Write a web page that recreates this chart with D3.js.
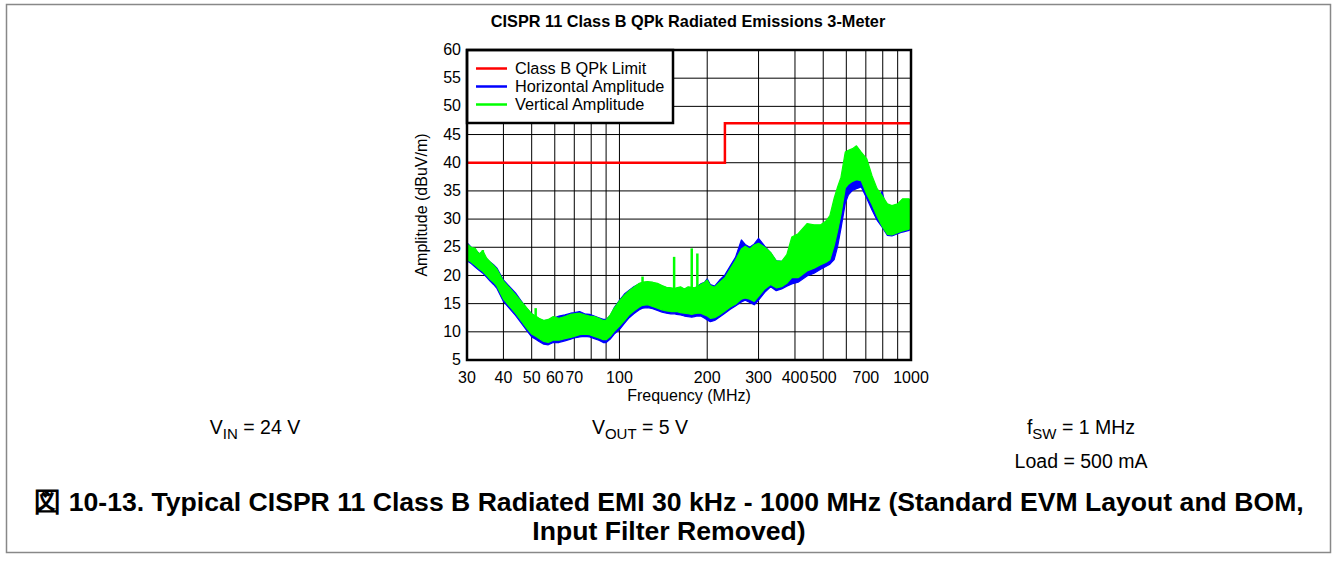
<!DOCTYPE html>
<html>
<head>
<meta charset="utf-8">
<script src="https://cdn.jsdelivr.net/npm/d3@7/dist/d3.min.js"></script>
<style>
  html, body { margin: 0; padding: 0; background: #fff; }
  svg { display: block; }
  text { font-family: "Liberation Sans", Arial, sans-serif; fill: #000; }
</style>
</head>
<body>
<svg id="chart" width="1338" height="563"></svg>
<script>
// ---- data ---------------------------------------------------------------
const freqMHz = [30,31,32,33,34,35,36,37,38,40,42,44,46,48,50,51.6,53,55,57,59.3,62,65,68,70,73,76,79,82,85,88,90,93,96,100,104,108,112,117,120,125,130,135,140,145,150,154,157,162,167,172,177,181,185,190,196,200,205,212,220,230,240,250,262,270,280,290,300,315,330,345,360,375,390,410,440,465,490,510,527,545,560,575,595,610,630,650,675,705,735,765,795,830,860,900,935,985,1000];

// Vertical antenna (green): lower / upper envelope, dBuV/m
const vertLow  = [22.8,22.4,21.8,21.2,20.7,20.0,19.3,18.8,18.1,15.8,14.5,13.3,12.0,10.7,9.6,9.2,8.8,8.3,8.1,8.5,8.5,8.8,9.0,9.2,9.5,9.6,9.5,9.2,8.9,8.6,8.6,9.2,10.1,11.0,12.0,13.0,13.7,14.4,14.7,14.8,14.5,14.2,13.9,13.7,13.6,13.6,13.6,13.4,13.3,13.2,13.1,13.2,13.3,13.3,13.0,12.8,12.4,12.5,13.0,13.7,14.4,14.9,15.8,16.0,15.8,15.4,16.3,17.6,18.4,17.8,18.0,18.6,19.6,19.6,20.8,21.3,21.9,22.3,22.8,25.3,27.9,30.8,35.5,36.2,36.7,37.0,36.8,34.4,32.6,30.5,28.8,27.3,27.2,27.6,27.9,28.2,28.6];
const vertHigh = [25.6,25.0,24.8,23.8,24.4,23.1,22.4,21.8,21.1,19.0,17.8,16.6,15.4,14.3,13.2,12.8,12.4,12.0,12.2,12.7,12.4,12.7,13.1,13.2,13.3,13.0,12.8,12.7,12.4,12.0,12.1,13.0,14.2,15.5,16.5,17.3,17.9,18.6,18.8,18.9,18.8,18.6,18.2,17.9,17.8,17.7,17.8,18.0,17.6,18.0,17.9,17.8,18.0,18.4,18.8,19.2,18.2,17.9,18.7,19.6,21.2,22.7,24.7,25.2,24.7,25.4,25.7,25.0,24.1,22.6,22.5,23.7,26.8,27.4,29.2,29.0,29.0,29.6,30.6,33.7,35.7,37.4,41.9,42.2,42.5,43.0,41.9,40.7,37.7,35.4,34.2,32.7,32.4,32.7,33.6,33.6,33.2];

// Horizontal antenna (blue): lower / upper envelope, dBuV/m
const horizLow  = [22.6,22.1,21.5,20.9,20.4,19.7,19.0,18.4,17.7,15.4,14.1,12.9,11.6,10.3,9.1,8.7,8.3,7.8,7.7,8.1,8.1,8.4,8.7,8.9,9.1,9.2,9.1,8.8,8.5,8.1,8.1,8.7,9.6,10.4,11.5,12.5,13.2,13.9,14.2,14.3,14.1,13.8,13.5,13.3,13.2,13.2,13.1,13.0,12.8,12.7,12.6,12.7,12.8,12.8,12.4,12.1,11.8,12.0,12.6,13.3,14.0,14.6,15.3,15.6,15.2,14.8,15.6,17.0,18.0,17.3,17.6,18.1,18.5,18.8,19.9,20.4,21.1,21.6,22.0,22.8,25.1,28.3,32.8,34.3,35.1,35.4,35.7,33.7,31.6,29.8,28.6,27.1,27.0,27.4,27.7,28.0,28.3];
const horizHigh = [25.8,25.0,24.5,23.9,23.5,22.9,22.4,21.9,21.3,19.2,18.0,16.9,15.5,14.2,13.2,12.6,12.2,12.0,12.1,12.4,12.8,13.0,13.3,13.4,13.6,13.2,13.1,12.8,12.5,12.2,12.2,12.8,14.3,15.6,16.7,17.4,18.0,18.5,18.7,18.8,18.6,18.4,18.1,17.8,17.7,17.6,17.7,17.8,17.6,17.7,17.6,17.7,18.1,18.5,18.8,19.4,18.4,18.1,19.1,20.1,21.7,23.2,26.3,25.5,25.0,25.6,26.6,25.2,24.0,22.6,22.5,22.7,24.7,25.2,26.0,26.2,26.6,27.0,27.7,29.7,31.2,33.4,36.0,37.2,37.8,38.1,37.8,36.7,34.2,33.4,34.9,31.4,31.2,31.6,32.0,32.2,32.0];

// Narrow single-frequency peaks on the vertical trace
const vertSpikeFreq = [34, 51.6, 120, 154, 177, 185];
const vertSpikeBase = [22.0, 11.0, 16.0, 16.0, 16.0, 16.0];
const vertSpikeTop  = [24.5, 14.2, 19.8, 23.3, 24.8, 23.9];

// CISPR 11 Class B QPk limit (3 m)
const limitFreq  = [30, 230, 230, 1000];
const limitLevel = [40, 40, 47, 47];

const xGridFreq  = [30,40,50,60,70,80,90,100,200,300,400,500,600,700,800,900,1000];
const xTickFreq  = [30,40,50,60,70,100,200,300,400,500,700,1000];
const yTickLevel = [5,10,15,20,25,30,35,40,45,50,55,60];

const legendLabels = ["Class B QPk Limit", "Horizontal Amplitude", "Vertical Amplitude"];
const seriesColors = ["#ff0000", "#0000ff", "#00ff00"];

// ---- layout -------------------------------------------------------------
const svg = d3.select("#chart");
const plot = { left: 467, right: 911, top: 50, bottom: 360 };

const x = d3.scaleLog().domain([30, 1000]).range([plot.left, plot.right]);
const y = d3.scaleLinear().domain([5, 60]).range([plot.bottom, plot.top]);

// outer figure frame
svg.append("rect")
  .attr("x", 6.5).attr("y", 4.5).attr("width", 1324).attr("height", 548)
  .attr("fill", "none").attr("stroke", "#888").attr("stroke-width", 1.5);

// title
svg.append("text")
  .attr("x", 688).attr("y", 27)
  .attr("text-anchor", "middle")
  .attr("font-size", 16.3).attr("font-weight", "bold")
  .text("CISPR 11 Class B QPk Radiated Emissions 3-Meter");

// grid + axes
const xAxis = d3.axisBottom(x)
  .tickValues(xGridFreq)
  .tickSize(-(plot.bottom - plot.top))
  .tickPadding(12)
  .offset(0)
  .tickFormat(d => xTickFreq.includes(d) ? d3.format("d")(d) : "");
const yAxis = d3.axisLeft(y)
  .tickValues(yTickLevel)
  .tickSize(-(plot.right - plot.left))
  .tickPadding(6)
  .offset(0)
  .tickFormat(d3.format("d"));

const gx = svg.append("g").attr("transform", `translate(0,${plot.bottom})`).call(xAxis);
const gy = svg.append("g").attr("transform", `translate(${plot.left},0)`).call(yAxis);
[gx, gy].forEach(g => {
  g.select(".domain").remove();
  g.selectAll(".tick line").attr("stroke", "#000").attr("stroke-width", 1);
  g.selectAll(".tick text")
    .attr("font-family", "'Liberation Sans', Arial, sans-serif")
    .attr("font-size", 16).attr("fill", "#000");
});

// axis titles
svg.append("text")
  .attr("x", 689).attr("y", 401)
  .attr("text-anchor", "middle").attr("font-size", 16)
  .text("Frequency (MHz)");
svg.append("text")
  .attr("transform", `translate(427,${(plot.top + plot.bottom) / 2}) rotate(-90)`)
  .attr("text-anchor", "middle").attr("font-size", 16)
  .text("Amplitude (dBuV/m)");

// limit line
const limitLine = d3.line().x(d => x(d[0])).y(d => y(d[1]));
svg.append("path")
  .datum(d3.zip(limitFreq, limitLevel))
  .attr("d", limitLine)
  .attr("fill", "none").attr("stroke", seriesColors[0]).attr("stroke-width", 2.5);

// measurement bands
const band = d3.area()
  .x(d => x(d.f)).y0(d => y(d.lo)).y1(d => y(d.hi));

const horizData = freqMHz.map((f, i) => ({ f, lo: horizLow[i], hi: horizHigh[i] }));
const vertData  = freqMHz.map((f, i) => ({ f, lo: vertLow[i],  hi: vertHigh[i] }));

svg.append("path").datum(horizData).attr("d", band)
  .attr("fill", seriesColors[1]).attr("stroke", seriesColors[1]).attr("stroke-width", 1.2)
  .attr("stroke-linejoin", "round");
svg.append("path").datum(vertData).attr("d", band)
  .attr("fill", seriesColors[2]).attr("stroke", seriesColors[2]).attr("stroke-width", 1.2)
  .attr("stroke-linejoin", "round");

svg.append("g").selectAll("line")
  .data(d3.range(vertSpikeFreq.length))
  .join("line")
  .attr("x1", i => x(vertSpikeFreq[i])).attr("x2", i => x(vertSpikeFreq[i]))
  .attr("y1", i => y(vertSpikeBase[i])).attr("y2", i => y(vertSpikeTop[i]))
  .attr("stroke", seriesColors[2]).attr("stroke-width", 2.5);

// legend
const legend = svg.append("g");
legend.append("rect")
  .attr("x", plot.left).attr("y", plot.top).attr("width", 206).attr("height", 73)
  .attr("fill", "#fff").attr("stroke", "#000").attr("stroke-width", 2.5);
legendLabels.forEach((label, i) => {
  const cy = 68.5 + i * 18;
  legend.append("line")
    .attr("x1", 476).attr("x2", 507).attr("y1", cy).attr("y2", cy)
    .attr("stroke", seriesColors[i]).attr("stroke-width", 2.5);
  legend.append("text")
    .attr("x", 515).attr("y", cy).attr("dy", "0.36em")
    .attr("font-size", 16.3).text(label);
});

// plot frame
svg.append("rect")
  .attr("x", plot.left).attr("y", plot.top)
  .attr("width", plot.right - plot.left).attr("height", plot.bottom - plot.top)
  .attr("fill", "none").attr("stroke", "#000").attr("stroke-width", 2.5);

// operating conditions
function subText(cx, cy, main, sub, rest) {
  const t = svg.append("text")
    .attr("x", cx).attr("y", cy).attr("text-anchor", "middle").attr("font-size", 19.5);
  t.append("tspan").text(main);
  t.append("tspan").attr("dy", 5).attr("font-size", 15).text(sub);
  t.append("tspan").attr("dy", -5).text(rest);
}
subText(255, 434, "V", "IN", " = 24 V");
subText(640, 434, "V", "OUT", " = 5 V");
subText(1081, 434, "f", "SW", " = 1 MHz");
svg.append("text")
  .attr("x", 1081).attr("y", 468).attr("text-anchor", "middle").attr("font-size", 19.5)
  .text("Load = 500 mA");

// caption
const caption = svg.append("text")
  .attr("text-anchor", "middle").attr("font-weight", "bold").attr("font-size", 26.6);
caption.append("tspan").attr("x", 669).attr("y", 511)
  .text("図 10-13. Typical CISPR 11 Class B Radiated EMI 30 kHz - 1000 MHz (Standard EVM Layout and BOM,");
caption.append("tspan").attr("x", 669).attr("y", 540)
  .text("Input Filter Removed)");
</script>
</body>
</html>
